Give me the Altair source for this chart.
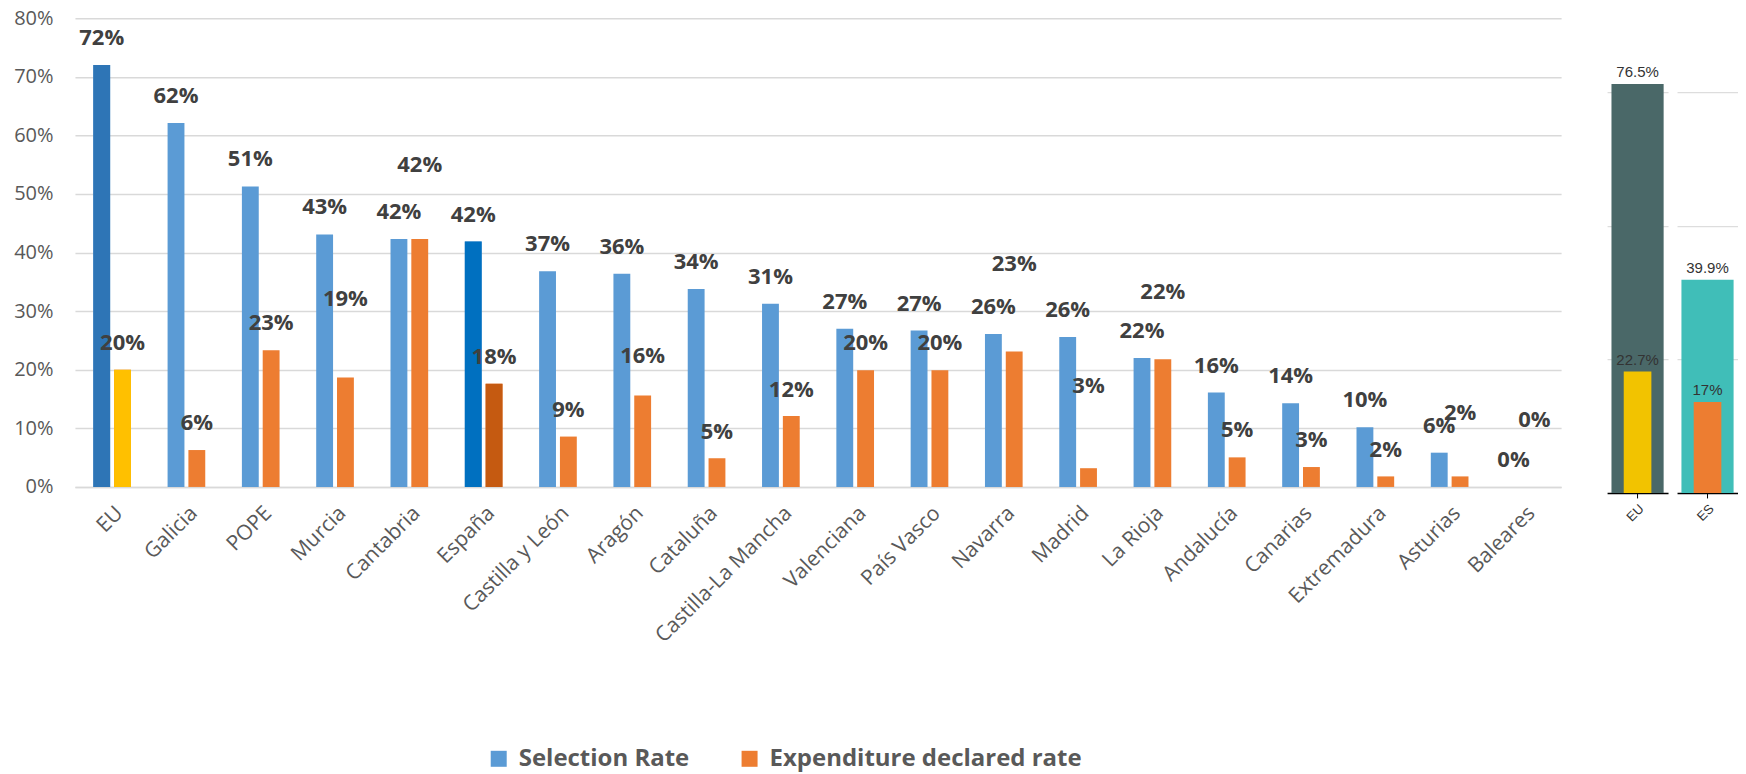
import altair as alt
import pandas as pd

# ---------------- data ----------------
categories = ["EU", "Galicia", "POPE", "Murcia", "Cantabria", "España",
              "Castilla y León", "Aragón", "Cataluña", "Castilla-La Mancha",
              "Valenciana", "País Vasco", "Navarra", "Madrid", "La Rioja",
              "Andalucía", "Canarias", "Extremadura", "Asturias", "Baleares"]
selection_rate = [72.0, 62.1, 51.3, 43.1, 42.3, 41.9, 36.8, 36.4, 33.8, 31.25,
                  27.0, 26.7, 26.1, 25.6, 22.0, 16.1, 14.3, 10.2, 5.85, 0.0]
expenditure_rate = [20.0, 6.3, 23.35, 18.7, 42.3, 17.6, 8.6, 15.6, 4.9, 12.1,
                    19.9, 19.9, 23.1, 3.2, 21.8, 5.05, 3.4, 1.8, 1.8, 0.0]
# where the (partly displaced) expenditure data labels sit, in % units
expenditure_label_at = [24.5, 10.85, 28.0, 32.0, 54.9, 22.2, 13.1, 22.4, 9.4, 16.6,
                        24.6, 24.6, 38.0, 17.2, 33.2, 9.7, 8.0, 6.3, 12.7, 11.4]
y_ticks = [0, 10, 20, 30, 40, 50, 60, 70, 80]

side_regions = ["EU", "ES"]
side_selection = [76.5, 39.9]
side_expenditure = [22.7, 17.0]
side_labels_sel = ["76.5%", "39.9%"]
side_labels_exp = ["22.7%", "17%"]
side_grid = [25, 50, 75]

SEL = "Selection Rate"
EXP = "Expenditure declared rate"
LABEL_GAP = 4.6  # label centre above bar top, in % units

rows = []
for c, s, e, la in zip(categories, selection_rate, expenditure_rate, expenditure_label_at):
    rows.append({"region": c, "series": SEL, "value": s, "label_at": s + LABEL_GAP})
    rows.append({"region": c, "series": EXP, "value": e, "label_at": la})
df = pd.DataFrame(rows)

FONT = "Open Sans"
GRID = "#D9D9D9"

x_enc = alt.X("region:N", sort=categories,
              scale=alt.Scale(domain=categories, paddingInner=0.493, paddingOuter=0.2465),
              axis=alt.Axis(title=None, labelAngle=-45, labelFont=FONT, labelFontSize=21,
                            labelColor="#595959", ticks=False, domainColor=GRID,
                            domainWidth=1.5, labelPadding=15, labelLimit=400))
xo_enc = alt.XOffset("series:N", scale=alt.Scale(domain=[SEL, EXP], paddingInner=0.19, paddingOuter=0))
y_scale = alt.Scale(domain=[0, 80], nice=False)
y_axis = alt.Axis(title=None, values=y_ticks, labelExpr="datum.value + '%'", domain=False,
                  ticks=False, labelPadding=22, gridColor=GRID, gridWidth=1.5,
                  labelFont=FONT, labelFontSize=20, labelColor="#595959")

base = alt.Chart(df)

bars = base.mark_bar().encode(
    x=x_enc, xOffset=xo_enc,
    y=alt.Y("value:Q", scale=y_scale, axis=y_axis),
    color=alt.Color("series:N", scale=alt.Scale(domain=[SEL, EXP], range=["#5B9BD5", "#ED7D31"]),
                    legend=alt.Legend(title=None, orient="none", legendX=412, legendY=729,
                                      direction="horizontal", symbolType="square",
                                      symbolSize=256, symbolStrokeWidth=0,
                                      labelFont=FONT, labelFontWeight="bold",
                                      labelFontSize=24, labelColor="#595959",
                                      labelLimit=600, columnPadding=48, labelOffset=8)),
)

special = base.transform_filter(
    "datum.region == 'EU' || datum.region == 'España'"
).transform_calculate(
    hex="datum.region == 'EU' ? (datum.series == '" + SEL + "' ? '#2E75B6' : '#FFC000') : "
        "(datum.series == '" + SEL + "' ? '#0070C0' : '#C55A11')"
).mark_bar().encode(
    x=x_enc, xOffset=xo_enc,
    y=alt.Y("value:Q", scale=y_scale),
    color=alt.Color("hex:N", scale=None),
)

labels = base.transform_calculate(
    txt="format(datum.value, '.0f') + '%'"
).mark_text(font=FONT, fontWeight="bold", fontSize=22, color="#404040", baseline="middle").encode(
    x=x_enc, xOffset=xo_enc,
    y=alt.Y("label_at:Q", scale=y_scale),
    text="txt:N",
)

main = alt.layer(bars, special, labels).resolve_scale(color="independent").properties(
    width=1487, height=469)

# ---------------- side panels ----------------
side_rows = []
for r, s, e, ls, le in zip(side_regions, side_selection, side_expenditure, side_labels_sel, side_labels_exp):
    side_rows.append({"region": r, "series": SEL, "value": s, "txt": ls})
    side_rows.append({"region": r, "series": EXP, "value": e, "txt": le})
side_df = pd.DataFrame(side_rows)

side_colors = {"EU": ("#4A6868", "#F2C300"), "ES": ("#40BEB8", "#ED7D31")}
side_y_scale = alt.Scale(domain=[0, 88.8], nice=False)


def side_panel(region):
    big_col, small_col = side_colors[region]
    b = alt.Chart(side_df).transform_filter(alt.datum.region == region)
    sx = alt.X("region:N", scale=alt.Scale(paddingOuter=0.076),
               axis=alt.Axis(title=None, labelAngle=-45, labelFont="Liberation Sans",
                             labelFontSize=13, labelColor="#333333", domainColor="#000000",
                             domainWidth=1.5, tickColor="#000000", tickSize=5, labelPadding=4))
    sy = alt.Y("value:Q", scale=side_y_scale,
               axis=alt.Axis(title=None, labels=False, ticks=False, domain=False,
                             values=side_grid, gridColor="#DDDDDD", gridWidth=1.2))
    big = b.transform_filter(alt.datum.series == SEL).mark_bar(color=big_col).encode(x=sx, y=sy)
    small = b.transform_filter(alt.datum.series == EXP).mark_bar(
        color=small_col, width=alt.RelativeBandSize(0.53)).encode(x=sx, y=sy)
    txt = b.mark_text(baseline="bottom", dy=-4, font="Liberation Sans", fontSize=15,
                      color="#333333").encode(x=sx, y=sy, text="txt:N")
    return alt.layer(big, small, txt).properties(width=61, height=475)


side = alt.hconcat(side_panel("EU"), side_panel("ES"), spacing=9)

chart = alt.hconcat(main, side, spacing=46).properties(
    padding={"left": 5, "top": 0, "right": 0, "bottom": 40}
).configure_view(strokeWidth=0)

chart.save("out.html", embed_options={"renderer": "svg", "actions": False})
